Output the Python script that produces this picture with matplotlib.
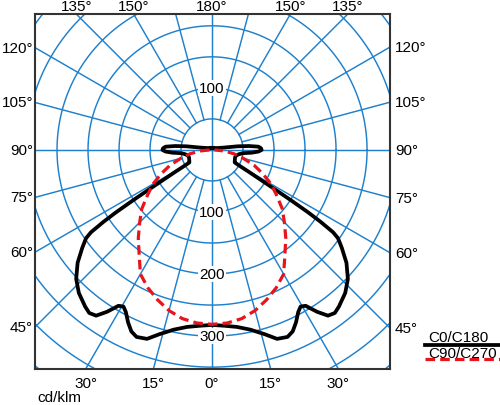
import numpy as np
import matplotlib
matplotlib.use('Agg')
import matplotlib.pyplot as plt
from matplotlib.lines import Line2D

plt.rcParams['font.family'] = ['Liberation Sans', 'DejaVu Sans']

# ---------------- data (cd/klm) ----------------
# C0/C180 plane (gamma in degrees, 0 = straight down)
gamma_c0 = [0, 4, 8, 12, 16, 19, 22, 24, 26, 28, 29.5, 31, 33, 35, 37, 39, 43, 46.5,
            50, 53, 55, 55.8, 56.5, 57, 57.5, 58, 58.5, 59.2, 60, 61, 63, 67, 72, 77,
            81, 84, 86, 88, 90, 92, 94, 96, 98, 101, 108, 120, 150, 180]
int_c0 = [282, 284, 288, 296, 309, 322, 325, 320, 309, 296, 290, 293, 311, 326, 329, 325, 315, 302,
          283, 262, 248, 236, 210, 185, 150, 115, 90, 70, 52, 42, 41, 40, 39, 40,
          44, 50, 64, 75, 80, 79, 75, 60, 42, 20, 10, 6, 4, 3]
int_c180 = list(int_c0)

# C90/C270 plane
gamma_c90 = [0, 5, 10, 15, 20, 25, 30, 35, 40, 45, 50, 55, 60, 65, 70, 75, 80, 85, 90]
int_c90 = [281, 280, 276, 268, 257, 245, 231, 205, 185, 165, 148, 127, 110, 90, 72, 52, 36, 20, 4]
int_c270 = list(int_c90)

ring_values = [50, 100, 150, 200, 250, 300, 350, 400, 450]
ring_labels_down = [100, 200, 300]
ring_labels_up = [100]
angle_labels = [0, 15, 30, 45, 60, 75, 90, 105, 120, 135, 150, 180]
legend_names = ['C0/C180', 'C90/C270']
unit_label = 'cd/klm'

# ---------------- figure ----------------
W, H = 500, 406
fig = plt.figure(figsize=(W / 100, H / 100), dpi=100)
ax = fig.add_axes([35 / W, (H - 370) / H, 355 / W, 355 / H])
XL = (-285.5, 287.0)
YL = (-353.0, 219.0)
ax.set_xlim(*XL)
ax.set_ylim(*YL)
ax.set_xticks([])
ax.set_yticks([])
for s in ax.spines.values():
    s.set_color('#333333')
    s.set_linewidth(1.5)

grid_c = '#1f80cc'
grid_lw = 1.05
t = np.linspace(0, 2 * np.pi, 721)
for r in ring_values:
    ax.plot(r * np.cos(t), r * np.sin(t), color=grid_c, lw=grid_lw, zorder=1)
for a in range(0, 360, 15):
    r0 = 0 if a % 90 == 0 else ring_values[0]
    ar = np.radians(a)
    ax.plot([r0 * np.sin(ar), 600 * np.sin(ar)], [-r0 * np.cos(ar), -600 * np.cos(ar)],
            color=grid_c, lw=grid_lw, zorder=1)


def to_xy(gam, inten, side):
    g = np.radians(np.asarray(gam, float))
    i = np.asarray(inten, float)
    return side * i * np.sin(g), -i * np.cos(g)


# C0/C180 curve: left half (C180) from 180 down to 0, then right (C0) from 0 to 180
xl, yl = to_xy(gamma_c0[::-1], int_c180[::-1], -1)
xr, yr = to_xy(gamma_c0, int_c0, 1)
ax.plot(np.concatenate([xl, xr]), np.concatenate([yl, yr]), color='black', lw=2.7,
        solid_joinstyle='round', zorder=4)

xl, yl = to_xy(gamma_c90[::-1], int_c270[::-1], -1)
xr, yr = to_xy(gamma_c90, int_c90, 1)
ax.plot(np.concatenate([xl, xr]), np.concatenate([yl, yr]), color='#e8141c', lw=2.3,
        dashes=(3.0, 1.6), zorder=5)

# ring labels
fs = 11
for v in ring_labels_down:
    ax.text(0, -v, str(v), ha='center', va='center', fontsize=fs, zorder=3,
            bbox=dict(boxstyle='square,pad=0.08', fc='white', ec='none'))
for v in ring_labels_up:
    ax.text(0, v, str(v), ha='center', va='center', fontsize=fs, zorder=3,
            bbox=dict(boxstyle='square,pad=0.08', fc='white', ec='none'))

# angle labels on the frame
px2pt = 0.72
for g in angle_labels:
    sides = [1] if g in (0, 180) else [-1, 1]
    for s in sides:
        gr = np.radians(g)
        dx, dy = s * np.sin(gr), -np.cos(gr)
        cands = []
        if abs(dx) > 1e-9:
            edge = XL[1] if dx > 0 else XL[0]
            cands.append((edge / dx, 'r' if dx > 0 else 'l'))
        if abs(dy) > 1e-9:
            edge = YL[1] if dy > 0 else YL[0]
            cands.append((edge / dy, 't' if dy > 0 else 'b'))
        tt, where = min(cands)
        px, py = tt * dx, tt * dy
        if where == 'l':
            off, ha, va = (-2, 0), 'right', 'center'
        elif where == 'r':
            off, ha, va = (5, 0), 'left', 'center'
        elif where == 't':
            off, ha, va = (0, 8), 'center', 'center'
        else:
            off, ha, va = (0, -14), 'center', 'center'
        ax.annotate(f'{g}°', (px, py), xytext=(off[0] * px2pt, off[1] * px2pt),
                    textcoords='offset points', ha=ha, va=va, fontsize=fs,
                    annotation_clip=False)

fig.text(37 / W, 1 - 402.5 / H, unit_label, ha='left', va='baseline', fontsize=fs)

# legend
fig.text(428 / W, 1 - 342 / H, legend_names[0], ha='left', va='baseline', fontsize=fs)
fig.add_artist(Line2D([425 / W, 1.0], [1 - 345.5 / H] * 2, transform=fig.transFigure,
                      color='black', lw=2.7))
fig.text(428 / W, 1 - 358 / H, legend_names[1], ha='left', va='baseline', fontsize=fs)
fig.add_artist(Line2D([425 / W, 1.0], [1 - 360 / H] * 2, transform=fig.transFigure,
                      color='#e8141c', lw=2.3, dashes=(3.0, 1.6)))

fig.savefig('out.png', dpi=100)
